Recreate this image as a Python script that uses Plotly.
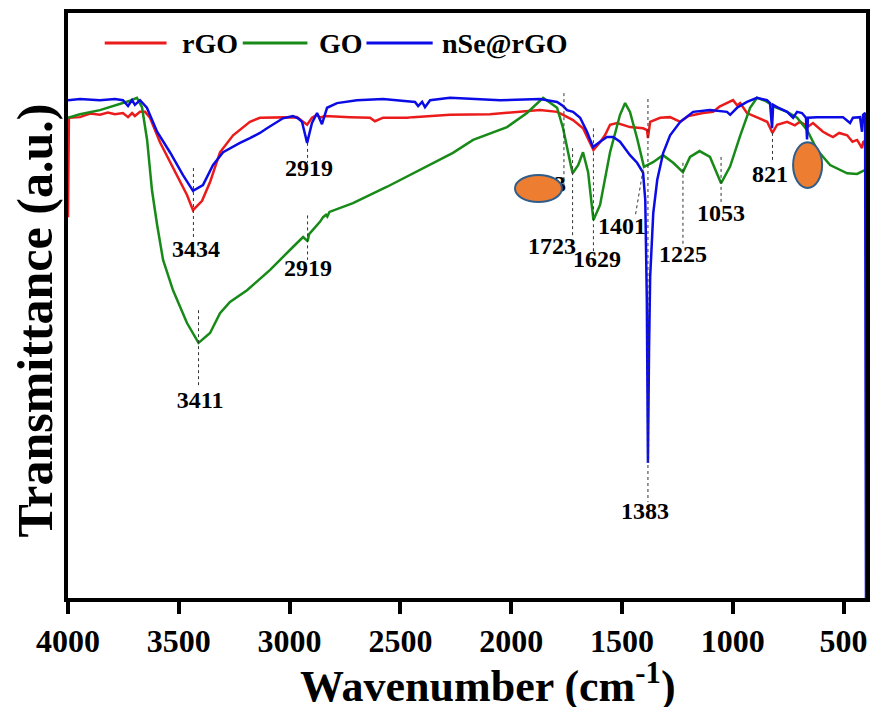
import plotly.graph_objects as go

# FTIR spectra, wavenumber (cm-1) vs transmittance (a.u.)
rgo_wn = [4000, 3996, 3946, 3900, 3856, 3820, 3788, 3752, 3729, 3711, 3698, 3675, 3652, 3630, 3585,
          3526, 3463, 3436, 3395, 3359, 3314, 3255, 3179, 3134, 3030, 2967, 2939, 2921, 2899, 2876,
          2863, 2840, 2727, 2637, 2615, 2578, 2470, 2443, 2276, 2096, 1870, 1793, 1766, 1721, 1676,
          1644, 1629, 1599, 1577, 1554, 1522, 1464, 1405, 1387, 1383, 1373, 1328, 1283, 1237, 1200,
          1179, 1134, 1089, 1060, 1044, 1020, 999, 980, 967, 936, 891, 845, 821, 800, 755, 720,
          697, 660, 638, 593, 570, 548, 520, 484, 460, 439, 417, 412, 399]
rgo_t = [65.1, 82.1, 82.2, 82.8, 82.6, 83.0, 82.7, 82.9, 82.2, 82.9, 82.4, 83.1, 83.1, 82.1, 77.9,
         73.5, 68.9, 66.3, 67.9, 71.1, 76.2, 79.1, 81.4, 82.1, 82.2, 82.2, 81.4, 80.9, 82.1, 82.6,
         82.1, 82.4, 82.2, 82.1, 81.5, 82.1, 82.1, 82.2, 82.6, 82.7, 83.4, 83.1, 82.6, 81.7, 80.3,
         77.9, 76.6, 77.9, 79.1, 80.9, 81.2, 80.5, 80.3, 80.0, 78.6, 81.4, 82.1, 82.2, 81.4, 82.4,
         82.6, 82.9, 83.1, 84.0, 84.3, 84.8, 85.1, 84.2, 84.6, 82.9, 82.2, 81.4, 79.5, 80.9, 81.4, 80.8,
         81.4, 80.6, 81.2, 79.7, 79.2, 78.8, 79.5, 79.1, 78.0, 78.3, 76.9, 77.9, 78.3]

go_wn = [4000, 3946, 3856, 3752, 3720, 3689, 3666, 3643, 3621, 3598, 3571, 3526, 3463, 3411, 3359,
         3314, 3269, 3192, 3088, 2985, 2939, 2919, 2912, 2863, 2849, 2836, 2830, 2820, 2714, 2560,
         2411, 2263, 2172, 2019, 1929, 1856, 1793, 1766, 1734, 1723, 1698, 1676, 1653, 1629, 1599,
         1554, 1509, 1486, 1464, 1432, 1401, 1360, 1315, 1269, 1225, 1193, 1150, 1103, 1053, 1012,
         967, 922, 891, 854, 809, 755, 710, 665, 620, 561, 484, 439, 412, 399]
go_t = [82.1, 82.7, 83.4, 84.6, 85.0, 85.5, 83.9, 78.3, 69.7, 63.8, 57.8, 52.6, 47.0, 43.6, 45.3,
        48.7, 50.6, 52.6, 56.1, 60.0, 61.7, 61.0, 62.2, 64.3, 65.1, 65.5, 65.2, 66.0, 67.5, 70.3,
        73.2, 76.1, 78.3, 80.5, 82.9, 85.5, 83.8, 80.3, 74.5, 72.6, 74.0, 76.2, 72.8, 64.6, 67.2,
        76.2, 82.6, 84.6, 83.1, 78.6, 73.7, 74.5, 75.7, 74.4, 72.8, 75.4, 76.4, 75.4, 70.9, 73.8,
        79.0, 83.8, 85.5, 85.0, 83.9, 83.1, 82.1, 80.0, 76.6, 74.0, 72.6, 72.5, 73.0, 73.2]

nse_wn = [4000, 3946, 3856, 3788, 3752, 3729, 3711, 3698, 3675, 3644, 3598, 3540, 3481, 3436, 3391,
          3346, 3300, 3224, 3179, 3134, 3102, 3030, 2985, 2962, 2944, 2921, 2899, 2876, 2854, 2831,
          2786, 2696, 2578, 2434, 2420, 2402, 2389, 2366, 2276, 2127, 2050, 1870, 1793, 1766, 1748,
          1721, 1689, 1658, 1631, 1599, 1568, 1540, 1509, 1464, 1432, 1405, 1395, 1388, 1383, 1378,
          1373, 1359, 1341, 1314, 1283, 1237, 1179, 1103, 1026, 1012, 981, 936, 891, 846, 832,
          823, 818, 800, 755, 728, 710, 688, 670, 665, 661, 620, 503, 471, 458, 426, 417,
          412, 403, 399]
nse_t = [85.1, 85.3, 85.1, 85.3, 85.1, 84.1, 85.1, 84.3, 85.1, 83.8, 79.7, 76.2, 72.3, 69.6, 70.6,
         74.0, 76.2, 77.8, 78.6, 79.5, 80.3, 82.0, 82.4, 82.0, 81.4, 77.8, 81.2, 82.9, 81.0, 83.8,
         84.6, 85.1, 85.3, 84.8, 84.1, 84.8, 83.9, 85.1, 85.5, 85.3, 85.1, 85.3, 84.8, 84.1, 83.4,
         83.1, 82.1, 79.7, 77.1, 78.0, 78.8, 78.8, 78.0, 75.7, 74.4, 72.7, 68.0, 50.9, 23.1, 42.4,
         54.9, 65.8, 71.5, 76.1, 79.1, 81.4, 83.1, 83.4, 83.1, 82.6, 83.8, 84.8, 85.5, 85.1, 84.6,
         80.3, 84.3, 83.9, 83.1, 82.1, 83.1, 82.9, 82.1, 78.4, 82.1, 82.2, 82.2, 81.2, 82.1, 82.2, 79.7,
         82.6, 82.9, 0.0]

peak_text = ['3434', '2919', '2919', '3411', '1763', '1723', '1629', '1401', '1383', '1225', '1053', '821']
x_ticks = [4000, 3500, 3000, 2500, 2000, 1500, 1000, 500]

# label placement (wavenumber, transmittance)
label_pos = [(3422, 59.4), (2912, 73.2), (2917, 56.1), (3404, 33.5), (1861, 70.4), (1816, 59.8),
             (1613, 57.6), (1500, 63.2), (1396, 14.5), (1225, 58.5), (1053, 65.5), (832, 72.1)]
# dashed guide lines x0, y0, x1, y1
guides = [(3434, 73.5, 3434, 61.2), (2919, 77.8, 2919, 74.4), (2919, 65.4, 2919, 57.8),
          (3411, 49.2, 3411, 36.1), (1762, 86.3, 1762, 70.3), (1723, 76.9, 1723, 61.7),
          (1629, 80.3, 1629, 59.0), (1383, 85.3, 1383, 16.4), (1405, 73.2, 1441, 65.1),
          (1225, 74.4, 1225, 60.0), (1053, 75.4, 1053, 67.5), (821, 79.5, 821, 74.4)]

RED = '#ec1b1b'
GREEN = '#178a17'
BLUE = '#0b0be6'
FONT = 'Liberation Serif'

fig = go.Figure()
fig.add_trace(go.Scatter(x=rgo_wn, y=rgo_t, mode='lines', line=dict(color=RED, width=2.5), name='rGO'))
fig.add_trace(go.Scatter(x=go_wn, y=go_t, mode='lines', line=dict(color=GREEN, width=2.5), name='GO'))
fig.add_trace(go.Scatter(x=nse_wn, y=nse_t, mode='lines', line=dict(color=BLUE, width=2.5), name='nSe@rGO'))
fig.add_trace(go.Scatter(x=[p[0] for p in label_pos], y=[p[1] for p in label_pos], mode='text',
                         text=peak_text, textposition='middle center',
                         textfont=dict(family=FONT, size=24, color='black', weight='bold'),
                         hoverinfo='skip'))

for x0, y0, x1, y1 in guides:
    fig.add_shape(type='line', x0=x0, y0=y0, x1=x1, y1=y1, xref='x', yref='y',
                  line=dict(color='#333333', width=1, dash='3px,3px'))

# orange blobs
for x0, x1, y0, y1 in [(1983, 1771, 67.7, 72.3), (728, 597, 70.1, 77.9)]:
    fig.add_shape(type='circle', x0=x0, x1=x1, y0=y0, y1=y1, xref='x', yref='y',
                  fillcolor='#ed7d31', line=dict(color='#2f5d8c', width=2), layer='above')

# legend drawn by hand (longer line samples)
leg = [(RED, 0.046, 0.1235, 0.1398, 'rGO'), (GREEN, 0.219, 0.300, 0.3116, 'GO'),
       (BLUE, 0.374, 0.457, 0.4658, 'nSe@rGO')]
for col, a, b, tx, name in leg:
    fig.add_shape(type='line', x0=a, x1=b, y0=0.9487, y1=0.9487, xref='paper', yref='paper',
                  line=dict(color=col, width=3))
    fig.add_annotation(x=tx, y=0.9487, xref='paper', yref='paper', text=name, showarrow=False,
                       xanchor='left', yanchor='middle',
                       font=dict(family=FONT, size=28, color='black', weight='bold'))

# axis titles
fig.add_annotation(x=0.526, y=-0.146, xref='paper', yref='paper', showarrow=False,
                   text='Wavenumber (cm<sup>-1</sup>)', xanchor='center', yanchor='middle',
                   font=dict(family=FONT, size=44, color='black', weight='bold'))
fig.add_annotation(x=-0.041, y=0.475, xref='paper', yref='paper', showarrow=False,
                   text='Transmittance (a.u.)', textangle=-90, xanchor='center', yanchor='middle',
                   font=dict(family=FONT, size=50, color='black', weight='bold'))

# page body keeps an 8px margin, so the figure is 8px smaller than the window
fig.update_layout(
    width=870, height=699,
    margin=dict(l=60, r=12, t=5, b=109),
    plot_bgcolor='white', paper_bgcolor='white',
    showlegend=False,
    xaxis=dict(range=[4000, 399], tickvals=x_ticks, ticks='outside', ticklen=12, tickwidth=4,
               tickcolor='black', showline=True, linewidth=4, linecolor='black', mirror=True,
               showgrid=False, zeroline=False, automargin=False,
               tickfont=dict(family=FONT, size=32, color='black', weight='bold')),
    yaxis=dict(range=[0, 100], showticklabels=False, ticks='', showline=True, linewidth=4,
               linecolor='black', mirror=True, showgrid=False, zeroline=False, automargin=False),
)

fig.write_html("out.html")
